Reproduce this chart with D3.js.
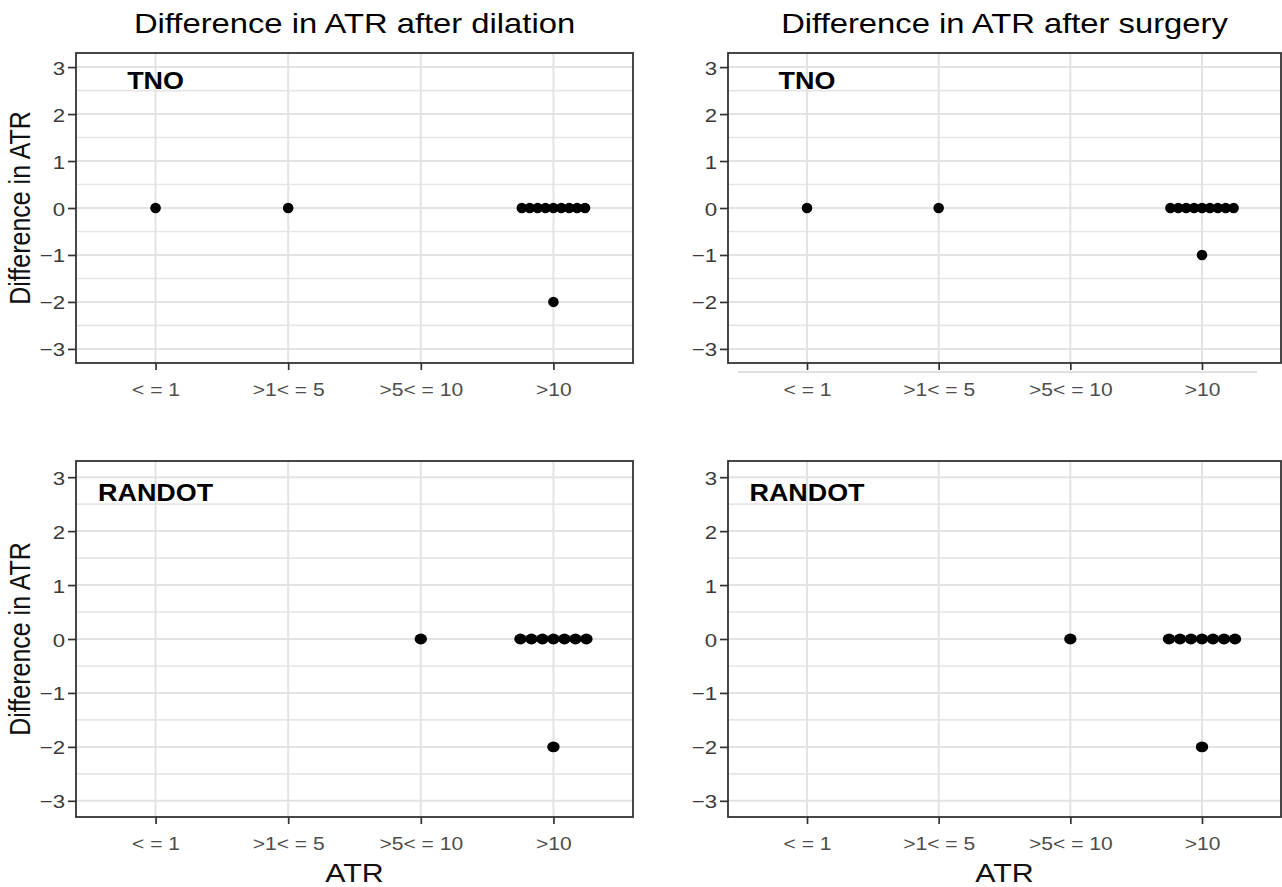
<!DOCTYPE html>
<html>
<head>
    <script src="https://d3js.org/d3.v7.min.js"></script>
    <style>
        body { margin: 0; background: #fff; }
        text { font-family: "Liberation Sans", Arial, sans-serif; }
    </style>
</head>
<body>
    <svg width="1282" height="887"></svg>
    <script>
        // ATR categories and y ticks
        var categories = ["< = 1", ">1< = 5", ">5< = 10", ">10"];
        var yTicks = [-3, -2, -1, 0, 1, 2, 3];
        var yMinor = [-2.5, -1.5, -0.5, 0.5, 1.5, 2.5];

        // each row: category, difference in ATR, number of eyes
        var dilationTNO = [
            {atr: "< = 1", diff: 0, n: 1},
            {atr: ">1< = 5", diff: 0, n: 1},
            {atr: ">10", diff: 0, n: 9},
            {atr: ">10", diff: -2, n: 1}
        ];
        var surgeryTNO = [
            {atr: "< = 1", diff: 0, n: 1},
            {atr: ">1< = 5", diff: 0, n: 1},
            {atr: ">10", diff: 0, n: 9},
            {atr: ">10", diff: -1, n: 1}
        ];
        var dilationRANDOT = [
            {atr: ">5< = 10", diff: 0, n: 1},
            {atr: ">10", diff: 0, n: 7},
            {atr: ">10", diff: -2, n: 1}
        ];
        var surgeryRANDOT = [
            {atr: ">5< = 10", diff: 0, n: 1},
            {atr: ">10", diff: 0, n: 7},
            {atr: ">10", diff: -2, n: 1}
        ];

        var SX = 1.17; // the picture is a bit wider than tall

        var svg = d3.select("svg");

        var panels = [
            {data: dilationTNO, label: "TNO", title: "Difference in ATR after dilation",
             left: 76, right: 633, top: 53, bottom: 363, yTitle: true, xTitle: false,
             rx: 5.3, ry: 5.2, step: 7.9, extraLine: false},
            {data: surgeryTNO, label: "TNO", title: "Difference in ATR after surgery",
             left: 728, right: 1281, top: 53, bottom: 363, yTitle: false, xTitle: false,
             rx: 5.3, ry: 5.2, step: 7.9, extraLine: true},
            {data: dilationRANDOT, label: "RANDOT", title: null,
             left: 76, right: 633, top: 461, bottom: 817, yTitle: true, xTitle: true,
             rx: 6.2, ry: 5.4, step: 11, extraLine: false},
            {data: surgeryRANDOT, label: "RANDOT", title: null,
             left: 728, right: 1281, top: 461, bottom: 817, yTitle: false, xTitle: true,
             rx: 6.2, ry: 5.4, step: 11, extraLine: false}
        ];

        function stretchText(g, x, y, str) {
            return g.append("text")
                .attr("transform", "translate(" + x + "," + y + ") scale(" + SX + ",1)")
                .text(str);
        }

        panels.forEach(function(p) {
            var x = d3.scalePoint().domain(categories).range([p.left, p.right]).padding(0.6);
            var y = d3.scaleLinear().domain([-3.3, 3.3]).range([p.bottom, p.top]);
            var g = svg.append("g");

            // grid
            g.selectAll(".minor").data(yMinor).enter().append("line")
                .attr("x1", p.left).attr("x2", p.right)
                .attr("y1", function(d) { return y(d); })
                .attr("y2", function(d) { return y(d); })
                .attr("stroke", "#e6e6e6").attr("stroke-width", 1.6);
            g.selectAll(".major").data(yTicks).enter().append("line")
                .attr("x1", p.left).attr("x2", p.right)
                .attr("y1", function(d) { return y(d); })
                .attr("y2", function(d) { return y(d); })
                .attr("stroke", "#e3e3e3").attr("stroke-width", 2);
            g.selectAll(".vmajor").data(categories).enter().append("line")
                .attr("x1", function(d) { return x(d); })
                .attr("x2", function(d) { return x(d); })
                .attr("y1", p.top).attr("y2", p.bottom)
                .attr("stroke", "#e3e3e3").attr("stroke-width", 2);

            // dots, stacked side by side around the category
            var dots = [];
            p.data.forEach(function(d) {
                for (var i = 0; i < d.n; i++) {
                    dots.push({atr: d.atr, diff: d.diff, off: (i - (d.n - 1) / 2) * p.step});
                }
            });
            g.selectAll(".dot").data(dots).enter().append("ellipse")
                .attr("cx", function(d) { return x(d.atr) + d.off; })
                .attr("cy", function(d) { return y(d.diff); })
                .attr("rx", p.rx).attr("ry", p.ry)
                .attr("fill", "#000");

            // panel label
            stretchText(g, x(categories[0]), y(2.7) + 8, p.label)
                .attr("text-anchor", "middle")
                .attr("font-size", 23).attr("font-weight", "bold");

            // border
            g.append("rect")
                .attr("x", p.left).attr("y", p.top)
                .attr("width", p.right - p.left).attr("height", p.bottom - p.top)
                .attr("fill", "none").attr("stroke", "#333").attr("stroke-width", 1.8);

            // y axis
            var yAxis = g.append("g")
                .attr("transform", "translate(" + p.left + ",0)")
                .call(d3.axisLeft(y).tickValues(yTicks).tickSize(8).tickFormat(d3.format("")));
            yAxis.select(".domain").remove();
            yAxis.selectAll("line").attr("stroke", "#333").attr("stroke-width", 1.7);
            yAxis.selectAll("text")
                .attr("x", null).attr("dy", null)
                .attr("transform", "translate(-11,7) scale(" + SX + ",1)")
                .attr("font-size", 19).attr("fill", "#3a3a3a")
                .attr("font-family", "Liberation Sans, Arial, sans-serif")
                .text(function(d) { return d < 0 ? "\u2212" + Math.abs(d) : d; });

            // x axis
            var xAxis = g.append("g")
                .attr("transform", "translate(0," + p.bottom + ")")
                .call(d3.axisBottom(x).tickSize(7));
            xAxis.select(".domain").remove();
            xAxis.selectAll("line").attr("stroke", "#333").attr("stroke-width", 1.7);
            xAxis.selectAll("text")
                .attr("y", null).attr("dy", null)
                .attr("transform", "translate(0,33) scale(" + SX + ",1)")
                .attr("font-size", 18).attr("fill", "#4d4d4d")
                .attr("font-family", "Liberation Sans, Arial, sans-serif");

            if (p.extraLine) {
                g.append("line")
                    .attr("x1", p.left + 10).attr("x2", p.right - 24)
                    .attr("y1", p.bottom + 9).attr("y2", p.bottom + 9)
                    .attr("stroke", "#e0e0e0").attr("stroke-width", 2);
            }

            var cx = (p.left + p.right) / 2;
            if (p.title) {
                stretchText(g, cx, 33, p.title)
                    .attr("text-anchor", "middle").attr("font-size", 28).attr("fill", "#000");
            }
            if (p.yTitle) {
                g.append("text")
                    .attr("transform", "translate(30," + ((p.top + p.bottom) / 2) + ") scale(" + SX + ",1) rotate(-90)")
                    .attr("text-anchor", "middle").attr("font-size", 25).attr("fill", "#111")
                    .text("Difference in ATR");
            }
            if (p.xTitle) {
                stretchText(g, cx, 882, "ATR")
                    .attr("text-anchor", "middle").attr("font-size", 26).attr("fill", "#111");
            }
        });
    </script>
</body>
</html>
